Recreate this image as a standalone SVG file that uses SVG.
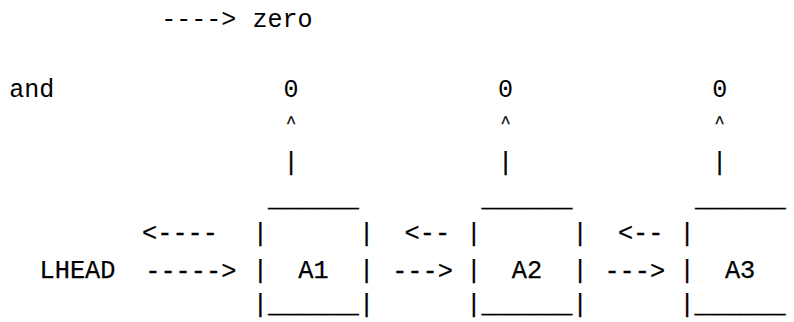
<svg xmlns="http://www.w3.org/2000/svg" width="794" height="322" viewBox="0 0 794 322">
<style>
text{font-family:"Liberation Mono","DejaVu Sans Mono",monospace;fill:#000;white-space:pre}
.c{font-size:25px}
.m{font-size:25.3px;stroke:#000;stroke-width:0.25}
.k{font-size:17px;stroke:#000;stroke-width:0.3}
.mid{text-anchor:middle}
</style>
<rect width="794" height="322" fill="#fff"/>
<g id="connectors">
  <text class="c mid" x="198.7" y="27">----&gt;</text>
  <text class="k mid" x="291" y="128">^</text>
  <text class="k mid" x="505.5" y="128">^</text>
  <text class="k mid" x="719.7" y="128">^</text>
  <text class="m mid" x="291" y="170">|</text>
  <text class="m mid" x="505.5" y="170">|</text>
  <text class="m mid" x="719.7" y="170">|</text>
  <text class="m mid" x="180" y="241">&lt;----</text>
  <text class="m mid" x="190.8" y="279">-----&gt;</text>
  <text class="m mid" x="427.3" y="241">&lt;--</text>
  <text class="m mid" x="422.5" y="279">---&gt;</text>
  <text class="m mid" x="640.7" y="241">&lt;--</text>
  <text class="m mid" x="634.8" y="279">---&gt;</text>
</g>
<g id="zero"><text class="c mid" x="282.5" y="27">zero</text></g>
<g id="and"><text class="c mid" x="31.7" y="97">and</text></g>
<g id="zero-1"><text class="c mid" x="291" y="97">0</text></g>
<g id="zero-2"><text class="c mid" x="505.5" y="97">0</text></g>
<g id="zero-3"><text class="c mid" x="719.7" y="97">0</text></g>
<g id="LHEAD"><text class="m mid" x="77.5" y="278">LHEAD</text></g>
<g id="A1">
  <text class="m mid" x="313.5" y="206">______</text>
  <text class="m mid" x="313.5" y="241">|      |</text>
  <text class="m mid" x="313.5" y="278">|  A1  |</text>
  <text class="m mid" x="313.5" y="312">|______|</text>
</g>
<g id="A2">
  <text class="m mid" x="527" y="206">______</text>
  <text class="m mid" x="527" y="241">|      |</text>
  <text class="m mid" x="527" y="278">|  A2  |</text>
  <text class="m mid" x="527" y="312">|______|</text>
</g>
<g id="A3">
  <text class="m mid" x="740.5" y="206">______</text>
  <text class="m" x="679.4" y="241">|</text>
  <text class="m" x="679.4" y="278">|  A3</text>
  <text class="m" x="679.4" y="312">|______</text>
</g>
</svg>
